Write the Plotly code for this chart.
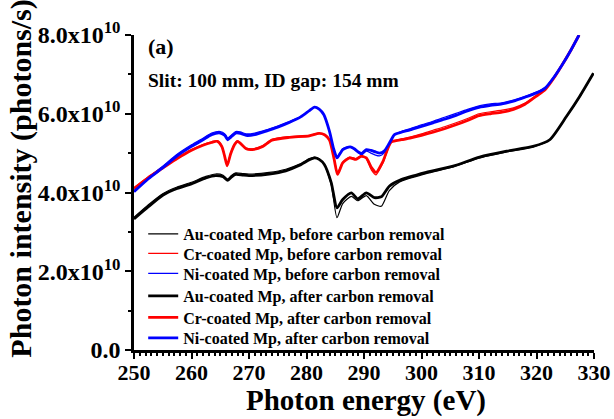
import plotly.graph_objects as go

# ---------------- data ----------------
E_black = [250, 252.5, 255, 257.5, 260, 262.5, 264.2, 265.5, 266.3, 267, 267.7, 269, 270,
           273.5, 276.4, 278.8, 280.5, 281.4, 282.2, 283.1, 284.3, 285.3, 286.3, 287.8,
           288.9, 290.4, 291.8, 293, 294.4, 296.2, 300.8, 305.5, 310.1, 314.8, 319.4,
           322.3, 325.2, 327.5, 329.9]
au_after = [3.33, 3.64, 3.93, 4.10, 4.22, 4.37, 4.43, 4.40, 4.31, 4.40, 4.46, 4.44, 4.43,
            4.47, 4.55, 4.69, 4.83, 4.88, 4.84, 4.71, 4.25, 3.61, 3.82, 3.99,
            3.84, 3.99, 3.87, 3.89, 4.16, 4.31, 4.51, 4.67, 4.90, 5.05, 5.17,
            5.34, 5.93, 6.44, 7.03]
au_before = [3.37, 3.69, 3.97, 4.14, 4.26, 4.41, 4.47, 4.44, 4.34, 4.44, 4.50, 4.48, 4.47,
             4.51, 4.59, 4.72, 4.86, 4.90, 4.86, 4.71, 4.20, 3.36, 3.72, 3.90,
             3.79, 3.92, 3.70, 3.65, 4.05, 4.27, 4.48, 4.65, 4.88, 5.03, 5.16,
             5.33, 5.92, 6.43, 7.02]

E_blue = [250, 252.5, 255, 257.5, 260, 262, 263.5, 265, 265.8, 266.3, 266.8, 267.7, 268.5,
          269.5, 271, 273, 275, 277, 279, 280.5, 281.4, 282.2, 283, 284, 284.7, 285.3,
          285.8, 286.3, 287, 287.6, 288.3, 289, 289.6, 290.4, 291.2, 292, 292.7, 293.5,
          294.4, 295.3, 296.5, 298, 300, 302, 304, 306, 308, 310, 312, 314, 316, 318,
          320, 321.5, 323, 324.5, 326, 327.4]
ni_after = [4.02, 4.35, 4.63, 4.93, 5.17, 5.34, 5.47, 5.51, 5.45, 5.34, 5.40, 5.51, 5.50,
            5.45, 5.47, 5.56, 5.66, 5.78, 5.92, 6.08, 6.17, 6.12, 5.98, 5.55, 5.12, 4.88,
            4.98, 5.09, 5.14, 5.16, 5.11, 5.03, 4.99, 5.09, 5.07, 5.03, 5.00, 5.05,
            5.25, 5.47, 5.53, 5.59, 5.68, 5.77, 5.86, 5.96, 6.07, 6.16, 6.21, 6.25, 6.32, 6.42,
            6.53, 6.65, 6.92, 7.25, 7.62, 8.00]
ni_before = [4.04, 4.38, 4.67, 4.97, 5.21, 5.38, 5.51, 5.55, 5.49, 5.38, 5.44, 5.55, 5.54,
             5.49, 5.51, 5.59, 5.69, 5.80, 5.93, 6.09, 6.17, 6.12, 5.98, 5.55, 5.12, 4.90,
             5.00, 5.11, 5.15, 5.16, 5.10, 5.01, 4.96, 5.05, 5.00, 4.95, 4.93, 5.00,
             5.22, 5.47, 5.55, 5.62, 5.72, 5.81, 5.91, 6.01, 6.11, 6.20, 6.25, 6.28, 6.35, 6.44,
             6.55, 6.67, 6.94, 7.27, 7.64, 8.00]

E_red = [250, 252.5, 255, 257.5, 260, 262, 263.5, 264.5, 265.3, 265.8, 266.2, 266.8, 267.5,
         268, 268.7, 269.5, 270.6, 272.4, 274, 277, 280.5, 282.2, 283.2, 284, 284.8, 285.4,
         286.3, 287.5, 288.6, 289.5, 290.4, 291.3, 292.1, 293.3, 294.7, 296.5, 298, 300,
         302, 304, 306, 308, 310, 312, 314, 316, 318, 320, 321.5, 323, 324.5, 326, 327.4]
cr_after = [4.10, 4.38, 4.62, 4.86, 5.07, 5.20, 5.27, 5.30, 5.16, 4.90, 4.68, 4.98, 5.22,
            5.30, 5.22, 5.11, 5.09, 5.17, 5.33, 5.40, 5.44, 5.50, 5.46, 5.33, 4.85, 4.46,
            4.75, 4.88, 4.84, 4.92, 4.88, 4.63, 4.51, 4.79, 5.28, 5.34, 5.38, 5.45,
            5.53, 5.62, 5.72, 5.83, 5.95, 6.00, 6.04, 6.11, 6.24, 6.45, 6.61, 6.90, 7.25, 7.62, 8.00]
cr_before = [4.12, 4.40, 4.64, 4.88, 5.09, 5.22, 5.29, 5.32, 5.18, 4.92, 4.70, 5.00, 5.24,
             5.32, 5.24, 5.13, 5.11, 5.19, 5.35, 5.42, 5.45, 5.51, 5.47, 5.33, 4.87, 4.50,
             4.77, 4.90, 4.86, 4.94, 4.86, 4.57, 4.45, 4.75, 5.27, 5.36, 5.41, 5.49,
             5.58, 5.67, 5.77, 5.88, 6.00, 6.05, 6.09, 6.15, 6.27, 6.47, 6.63, 6.92, 7.27, 7.64, 8.00]

y_ticks = [0, 2e10, 4e10, 6e10, 8e10]
y_tick_text = ["0.0", "2.0x10<sup>10</sup>", "4.0x10<sup>10</sup>",
               "6.0x10<sup>10</sup>", "8.0x10<sup>10</sup>"]
x_ticks = [250, 260, 270, 280, 290, 300, 310, 320, 330]

SCALE = 1e10
FONT = "Liberation Serif"

series = [
    ("Au-coated Mp, before carbon removal", E_black, au_before, "black", 1.2),
    ("Cr-coated Mp, before carbon removal", E_red, cr_before, "red", 1.2),
    ("Ni-coated Mp, before carbon removal", E_blue, ni_before, "blue", 1.2),
    ("Au-coated Mp, after carbon removal", E_black, au_after, "black", 2.8),
    ("Cr-coated Mp, after carbon removal", E_red, cr_after, "red", 2.8),
    ("Ni-coated Mp, after carbon removal", E_blue, ni_after, "blue", 2.8),
]

# legend row centres (px from top) as in the reference
legend_rows = [234, 253.5, 273.5, 296, 317.5, 338]
PLOT_TOP, PLOT_BOTTOM = 35, 350

fig = go.Figure()
layout_legends = {}
for i, (name, xs, ys, col, w) in enumerate(series):
    key = "legend" if i == 0 else f"legend{i + 1}"
    fig.add_trace(go.Scatter(
        x=xs, y=[v * SCALE for v in ys], mode="lines", name=name, legend=key,
        line=dict(color=col, width=w, shape="spline", smoothing=0.6),
    ))
    layout_legends[key] = dict(
        x=0.02, y=(PLOT_BOTTOM - legend_rows[i]) / (PLOT_BOTTOM - PLOT_TOP),
        xanchor="left", yanchor="middle",
        bgcolor="rgba(0,0,0,0)", borderwidth=0,
        font=dict(family=FONT, size=16, color="black", weight="bold"),
        itemwidth=30,
    )

fig.update_layout(
    width=614, height=419,
    margin=dict(l=134, r=20, t=PLOT_TOP, b=419 - PLOT_BOTTOM),
    plot_bgcolor="white", paper_bgcolor="white",
    font=dict(family=FONT, color="black"),
    showlegend=True,
    xaxis=dict(
        range=[250, 330], tickvals=x_ticks, showgrid=False, zeroline=False,
        showline=True, linecolor="black", linewidth=2.5, automargin=False,
        ticks="outside", ticklen=6, tickwidth=2, tickcolor="black",
        minor=dict(dtick=1, ticks="outside", ticklen=3, tickwidth=1.5, tickcolor="black"),
        tickfont=dict(family=FONT, size=22, color="black", weight="bold"),
        ticklabelstandoff=-5,
    ),
    yaxis=dict(
        range=[0, 8e10], tickvals=y_ticks, ticktext=y_tick_text,
        showgrid=False, zeroline=False, automargin=False,
        showline=True, linecolor="black", linewidth=2.5,
        ticks="outside", ticklen=6, tickwidth=2, tickcolor="black",
        minor=dict(dtick=1e10, ticks="outside", ticklen=3, tickwidth=1.5, tickcolor="black"),
        tickfont=dict(family=FONT, size=24, color="black", weight="bold"),
    ),
    **layout_legends,
)

# axis titles
fig.add_annotation(x=0.505, y=-0.159, xref="paper", yref="paper", xanchor="center", yanchor="middle",
                   text="Photon energy (eV)", showarrow=False,
                   font=dict(family=FONT, size=29, color="black", weight="bold"))
fig.add_annotation(x=-0.245, y=0.545, xref="paper", yref="paper", xanchor="center", yanchor="middle",
                   text="Photon intensity (photons/s)", showarrow=False, textangle=-90,
                   font=dict(family=FONT, size=30, color="black", weight="bold"))

fig.add_annotation(x=0.026, y=0.962, xref="paper", yref="paper", xanchor="left", yanchor="middle",
                   text="(a)", showarrow=False,
                   font=dict(family=FONT, size=22, color="black", weight="bold"))
fig.add_annotation(x=0.026, y=0.854, xref="paper", yref="paper", xanchor="left", yanchor="middle",
                   text="Slit: 100 mm, ID gap: 154 mm", showarrow=False,
                   font=dict(family=FONT, size=19.5, color="black", weight="bold"))

fig.write_html("out.html")
